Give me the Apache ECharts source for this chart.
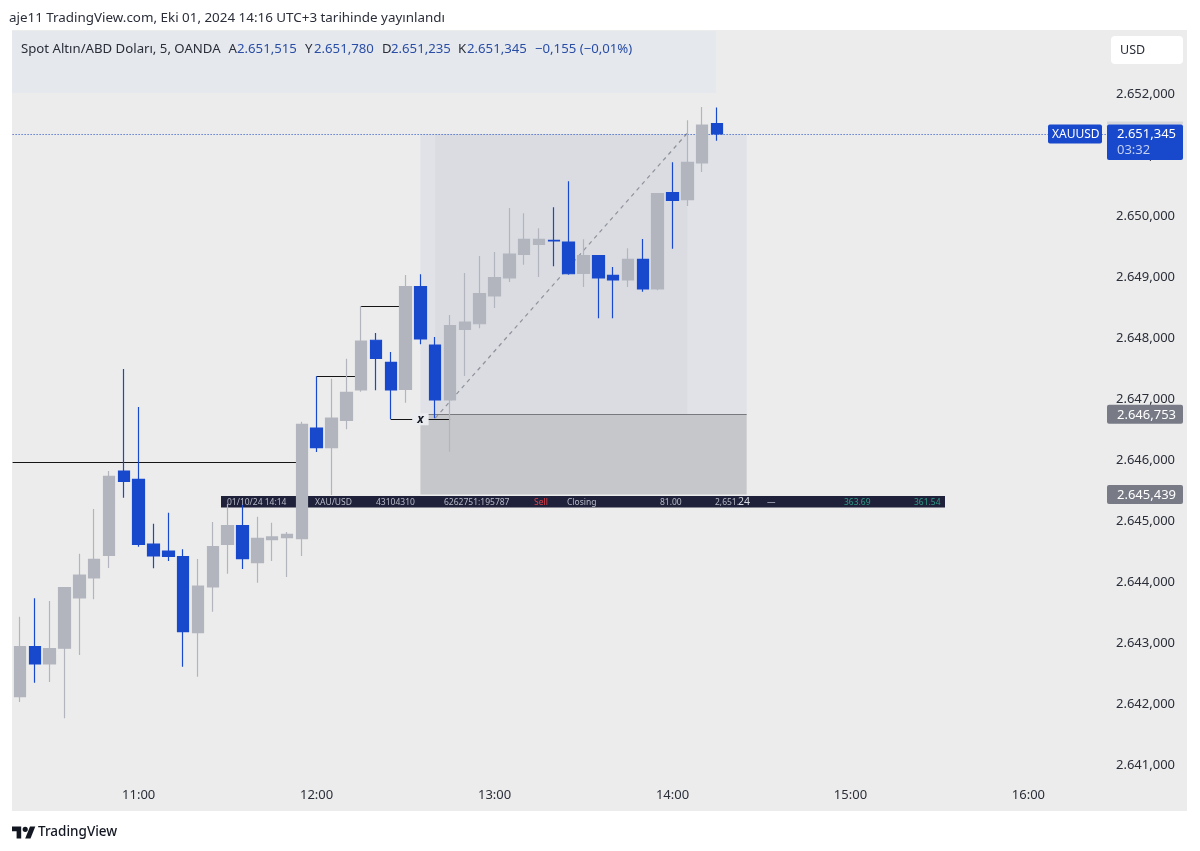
<!DOCTYPE html>
<html><head><meta charset="utf-8">
<style>html,body{margin:0;padding:0;background:#fff}#c{width:1200px;height:851px}</style>
<script src="https://cdn.jsdelivr.net/npm/echarts@6/dist/echarts.min.js"></script>
</head><body><div id="c"></div>
<script>
const categories = ['10:20','10:25','10:30','10:35','10:40','10:45','10:50','10:55','11:00','11:05','11:10','11:15','11:20','11:25','11:30','11:35','11:40','11:45','11:50','11:55','12:00','12:05','12:10','12:15','12:20','12:25','12:30','12:35','12:40','12:45','12:50','12:55','13:00','13:05','13:10','13:15','13:20','13:25','13:30','13:35','13:40','13:45','13:50','13:55','14:00','14:05','14:10','14:15','14:20','14:25','14:30','14:35','14:40','14:45','14:50','14:55','15:00','15:05','15:10','15:15','15:20','15:25','15:30','15:35','15:40','15:45','15:50','15:55','16:00','16:05','16:10','16:15','16:20','16:25'];
const opens = [2642.128,2642.947,2642.663,2642.921,2643.744,2644.072,2644.444,2645.825,2645.689,2644.629,2644.514,2644.421,2643.176,2643.925,2644.624,2644.929,2644.323,2644.699,2644.732,2644.716,2646.529,2646.206,2646.655,2647.152,2647.966,2647.605,2647.163,2648.844,2647.889,2646.988,2648.146,2648.237,2648.691,2648.986,2649.374,2649.538,2649.604,2649.576,2649.063,2649.351,2649.030,2648.953,2649.292,2648.806,2650.383,2650.269,2650.870,2651.515];
const closes = [2642.947,2642.663,2642.914,2643.913,2644.121,2644.378,2645.738,2645.656,2644.624,2644.432,2644.427,2643.192,2643.941,2644.585,2644.929,2644.388,2644.722,2644.744,2644.788,2646.590,2646.206,2646.693,2647.114,2647.954,2647.671,2647.152,2648.844,2647.987,2646.988,2648.205,2648.265,2648.729,2648.991,2649.379,2649.620,2649.620,2649.592,2649.056,2649.351,2648.986,2648.953,2649.292,2648.806,2650.367,2650.259,2650.881,2651.492,2651.345];
const lows = [2642.041,2642.357,2642.369,2641.774,2642.811,2643.723,2644.236,2645.387,2644.585,2644.231,2644.351,2642.619,2642.455,2643.520,2644.143,2644.219,2643.995,2644.351,2644.088,2644.432,2646.136,2645.432,2646.508,2647.124,2647.147,2646.672,2646.943,2647.900,2646.688,2646.141,2647.381,2648.162,2648.495,2648.921,2649.204,2649.002,2649.178,2649.040,2648.839,2648.326,2648.326,2648.839,2648.762,2648.785,2649.466,2650.165,2650.722,2651.235];
const highs = [2643.438,2643.740,2643.695,2643.925,2644.470,2645.202,2645.825,2647.495,2646.873,2644.961,2645.142,2644.542,2644.383,2644.989,2645.284,2645.289,2645.076,2644.978,2644.826,2646.632,2647.376,2647.337,2647.664,2648.527,2648.085,2647.774,2649.035,2649.047,2648.020,2648.380,2649.068,2649.346,2649.412,2650.133,2650.046,2649.800,2650.144,2650.570,2649.620,2649.351,2649.166,2649.473,2649.625,2650.367,2650.881,2651.569,2651.787,2651.780];
const yTicks = [2641,2642,2643,2644,2645,2646,2647,2648,2649,2650,2651,2652];
const lastPrice = 2651.345, entryPrice = 2646.753, stopPrice = 2645.439;
// horizontal levels: from index, to index, price (-1 = pane edge)
const levels = [[-1,19,2645.972],[20,23,2647.376],[23,26,2648.527],[25,29,2646.672],[27,49,entryPrice]];
const legendParts = [['Spot Altın/ABD Doları, 5, OANDA',21,'#2a2e39'],['A',228.5,'#2a2e39'],['2.651,515',237,'#2a4ea6'],['Y',305,'#2a2e39'],['2.651,780',314,'#2a4ea6'],['D',382,'#2a2e39'],['2.651,235',391,'#2a4ea6'],['K',458,'#2a2e39'],['2.651,345',467,'#2a4ea6'],['−0,155 (−0,01%)',535,'#2a4ea6']];
const tradeParts = [['01/10/24 14:14',227,'#b8bbc8'],['XAU/USD',315,'#b8bbc8'],['43104310',376,'#b8bbc8'],['6262751:195787',444,'#b8bbc8'],['Sell',534,'#e0404a'],['Closing',567,'#b8bbc8'],['81.00',660,'#b8bbc8'],['2,651.',715,'#b8bbc8'],['24',738,'#d8dae2',10.5],['—',767,'#b8bbc8'],['363.69',844,'#2e9c86'],['361.54',914,'#2e9c86']];

const FONT = '"Noto Sans", sans-serif';
const GREY = '#b2b5be', BLUE = '#1848cc';
const fmt = v => { const s = Number(v).toFixed(3); return s[0] + '.' + s.slice(1,4) + ',' + s.slice(5); };
const text = (t,x,y,fill,size,extra) => ({type:'text',z:20,style:Object.assign({text:t,x,y,fill,font:size+'px '+FONT,textVerticalAlign:'middle'},extra||{})});
const rect = (x,y,w,h,fill,z,r) => ({type:'rect',z:z,shape:{x,y,width:w,height:h,r:r||0},style:{fill}});
const crisp = y => Math.round(y)+0.5;

const chart = echarts.init(document.getElementById('c'),null,{renderer:'canvas'});
const gridLeft = 12.6, gridTop = 31, gridW = 1097.4, gridH = 781;
const baseGraphic = [
  rect(12,30,1175,781,'#ececec',-10),
  rect(12,31,704,62,'#e5e8ed',-9),
  rect(221,496,724,11.5,'#1e2139',-5),
  text('aje11 TradingView.com, Eki 01, 2024 14:16 UTC+3 tarihinde yayınlandı',9,18.5,'#2a2e39',13.4),
  rect(1111,36,72,28,'#ffffff',15,4),
  text('USD',1120,50,'#2a2e39',12.5),
  {type:'polygon',z:20,shape:{points:[[12,826.6],[21.2,826.6],[21.2,838.5],[16.6,838.5],[16.6,831.2],[12,831.2]]},style:{fill:'#131722'}},
  {type:'polygon',z:20,shape:{points:[[30,826.6],[35.3,826.6],[30.5,838.5],[25.2,838.5]]},style:{fill:'#131722'}},
  {type:'circle',z:20,shape:{cx:25.2,cy:829.3,r:2.6},style:{fill:'#131722'}},
  text('TradingView',38,832,'#131722',13.5,{font:'500 13.5px '+FONT}),
].concat(legendParts.map(p=>text(p[0],p[1],49.5,p[2],13.2)))
 .concat(tradeParts.map(p=>text(p[0],p[1],502.5,p[2],p[3]||8.5)));

chart.setOption({
  animation:false,
  backgroundColor:'#ffffff',
  grid:{left:gridLeft,top:gridTop,width:gridW,height:gridH,containLabel:false},
  xAxis:{type:'category',data:categories,boundaryGap:true,
    axisLine:{show:false},axisTick:{show:false},splitLine:{show:false},
    axisLabel:{inside:true,margin:10,color:'#2a2e39',fontFamily:FONT,fontSize:13,
      interval:(i,v)=>v.endsWith(':00')}},
  yAxis:{type:'value',position:'right',min:2640.239,max:2653.032,scale:true,
    axisLine:{show:false},axisTick:{show:false},splitLine:{show:false},
    axisLabel:{customValues:yTicks,margin:6,color:'#2a2e39',fontFamily:FONT,fontSize:13,formatter:fmt}},
  graphic:{elements:baseGraphic},
  series:[
    {type:'candlestick',z:5,barWidth:12,
      data:opens.map((o,i)=>[o,closes[i],lows[i],highs[i]]),
      itemStyle:{color:GREY,color0:BLUE,borderColor:GREY,borderColor0:BLUE,borderWidth:1.2},
      markArea:{silent:true,z:1,data:[
        [{xAxis:categories[27],yAxis:lastPrice,itemStyle:{color:'#e0e2e7',opacity:1}},{xAxis:categories[49],yAxis:entryPrice}],
        [{xAxis:categories[28],yAxis:lastPrice,itemStyle:{color:'#dadce2',opacity:1}},{xAxis:categories[45],yAxis:entryPrice}],
        [{xAxis:categories[27],yAxis:entryPrice,itemStyle:{color:'#c6c7ca',opacity:1}},{xAxis:categories[49],yAxis:stopPrice}]
      ]}},
    {type:'custom',z:3,clip:false,silent:true,data:levels,encode:{x:0,y:2},
      renderItem:(p,api)=>{
        const y=crisp(api.coord([0,api.value(2)])[1]);
        const a=api.value(0),b=api.value(1);
        const x1=a<0?gridLeft:api.coord([a,0])[0], x2=api.coord([b,0])[0];
        const thin=p.dataIndex===4;
        return {type:'line',shape:{x1,y1:y,x2,y2:y},style:{stroke:thin?'#77797f':'#151515',lineWidth:thin?1:1.2}};
      }},
    {type:'custom',z:4,clip:false,silent:true,data:[[28,2646.69,45,2651.36]],encode:{x:0,y:1},
      renderItem:(p,api)=>{
        const a=api.coord([api.value(0),api.value(1)]),b=api.coord([api.value(2),api.value(3)]);
        return {type:'line',shape:{x1:a[0],y1:a[1],x2:b[0],y2:b[1]},style:{stroke:'#8f929b',lineWidth:1.2,lineDash:[4,4]}};
      }},
    {type:'custom',z:4,clip:false,silent:true,data:[[27,2646.672]],encode:{x:0,y:1},
      renderItem:(p,api)=>{
        const a=api.coord([api.value(0),api.value(1)]);
        return {type:'text',style:{text:'x',x:a[0],y:a[1],textAlign:'center',textVerticalAlign:'middle',fill:'#131722',font:'italic bold 12px '+FONT,backgroundColor:'#ebecef',padding:[0,5]}};
      }},
    {type:'custom',z:4,clip:false,silent:true,data:[[lastPrice]],encode:{y:0},
      renderItem:(p,api)=>{
        const y=crisp(api.coord([0,api.value(0)])[1]);
        return {type:'line',shape:{x1:gridLeft,y1:y,x2:1107,y2:y},style:{stroke:BLUE,lineWidth:1,lineDash:[1,2]}};
      }}
  ]
});

const py = v => chart.convertToPixel({yAxisIndex:0},v);
const yL=py(lastPrice), yE=py(entryPrice), yS=py(stopPrice);
chart.setOption({graphic:{elements:baseGraphic.concat([
  rect(1107,yL-12.5,76,3,'#d6d7da',14),
  rect(1048,yL-9.5,54,19,BLUE,15,2),
  text('XAUUSD',1052,yL+0.5,'#ffffff',12),
  rect(1107,yL-9.5,76,35.5,BLUE,15,2),
  text(fmt(lastPrice),1117,yL+0.5,'#ffffff',13),
  text('03:32',1117,yL+16,'#c4d0f0',13),
  rect(1107,yE-9.5,76,19,'#787b86',15,2),
  text(fmt(entryPrice),1117,yE+0.5,'#ffffff',13),
  rect(1107,yS-9.5,76,19,'#787b86',15,2),
  text(fmt(stopPrice),1117,yS+0.5,'#ffffff',13)
])}});
</script></body></html>
